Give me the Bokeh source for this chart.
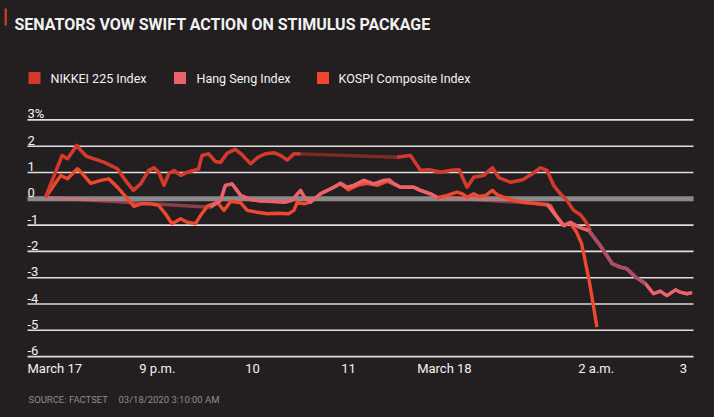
import math
from bokeh.plotting import figure
from bokeh.models import Range1d
from bokeh.core.properties import value
from bokeh.embed import file_html
from bokeh.resources import INLINE

# ---------------- data ----------------
TITLE = "SENATORS VOW SWIFT ACTION ON STIMULUS PACKAGE"
SERIES_NAMES = ["NIKKEI 225 Index", "Hang Seng Index", "KOSPI Composite Index"]
SOURCE = "SOURCE: FACTSET"
STAMP = "03/18/2020 3:10:00 AM"

# time axis (0 = start of the chart, 100 = end)
X_START, X_END = 0, 100
X_TICKS = [0, 19.5, 33.8, 48.2, 62.6, 85.4, 98.5]
X_TICK_LABELS = ["March 17", "9 p.m.", "10", "11", "March 18", "2 a.m.", "3"]

Y_TICKS = [3, 2, 1, 0, -1, -2, -3, -4, -5, -6]
Y_TICK_LABELS = ["3%", "2", "1", "0", "-1", "-2", "-3", "-4", "-5", "-6"]

NIKKEI_X = [2.7, 5.2, 6.0, 7.4, 8.0, 8.9, 10.0, 11.5, 13.5, 14.7, 15.9, 17.0, 18.2, 19.0,
            19.7, 20.5, 21.2, 22.0, 23.0, 24.0, 25.0, 25.7, 26.2, 27.2, 28.2, 29.0, 30.0,
            31.2, 32.2, 33.5, 34.6, 35.7, 37.0, 38.0, 39.0, 40.0, 41.0,
            55.5, 57.5, 59.0, 60.3, 62.0, 63.5, 64.8, 66.0, 67.0, 68.5, 69.8, 70.8, 72.5,
            74.3, 75.8, 77.0, 78.0, 79.0, 80.0, 81.0, 82.0, 83.0, 83.8, 84.5]
NIKKEI_Y = [0.05, 1.65, 1.52, 2.03, 1.84, 1.61, 1.52, 1.39, 1.14, 0.70, 0.32, 0.57, 1.08, 1.18,
            1.01, 0.51, 0.95, 1.08, 0.89, 1.01, 1.08, 1.14, 1.65, 1.71, 1.42, 1.39, 1.74,
            1.88, 1.68, 1.33, 1.58, 1.71, 1.75, 1.65, 1.47, 1.71, 1.71,
            1.58, 1.65, 1.08, 1.11, 1.01, 1.08, 1.11, 0.44, 0.82, 0.89, 1.18, 0.80, 0.63,
            0.72, 0.95, 1.18, 1.08, 0.51, 0.19, -0.06, -0.44, -0.60, -0.86, -1.20]
NIKKEI_BREAKS = [41.0]          # lunch break starts after this point

HANGSENG_X = [2.7, 27.5, 29.0, 29.7, 30.7, 32.0, 33.5, 35.0, 37.0, 38.7, 39.7, 41.0, 41.7,
              42.5, 44.0, 46.0, 47.0, 48.0, 49.0, 50.5, 52.0, 53.5, 54.3, 55.0, 56.0, 58.0,
              59.0, 60.5, 61.5,
              78.0, 79.3, 80.5, 81.5, 82.8, 84.3, 86.0, 87.8, 89.0, 90.0, 91.3, 92.8, 94.0,
              95.0, 96.0, 97.3, 98.0, 99.0, 99.8]
HANGSENG_Y = [0.05, -0.32, -0.06, 0.51, 0.57, 0.13, -0.03, -0.09, -0.10, -0.13, -0.06, 0.32, 0.02,
              -0.12, 0.19, 0.44, 0.59, 0.44, 0.51, 0.70, 0.57, 0.70, 0.72, 0.57, 0.44, 0.44,
              0.32, 0.19, 0.06,
              -0.20, -0.63, -1.02, -0.89, -1.08, -1.21, -1.78, -2.47, -2.60, -2.66, -2.98, -3.23, -3.61,
              -3.51, -3.68, -3.46, -3.55, -3.61, -3.57]
HANGSENG_BREAKS = [2.7, 61.5]   # open gap and lunch break
HANGSENG_DIM = [(84.3, 92.8)]

KOSPI_X = [2.7, 5.0, 6.0, 7.5, 8.2, 9.5, 11.0, 12.2, 13.5, 14.7, 16.0, 17.0, 18.5, 19.7,
           20.7, 21.7, 23.0, 24.0, 25.2, 26.0, 27.0, 28.5, 29.5, 30.5, 32.0, 33.0, 34.5,
           36.0, 37.5, 39.2, 40.0, 40.5, 41.5, 42.5, 44.0, 45.5, 47.0, 48.2, 49.5, 51.0,
           52.5, 54.0, 55.5, 56.0, 58.0, 59.0, 60.5, 61.5, 63.0, 64.5, 65.3, 66.0, 67.0,
           67.8, 68.8, 69.8, 70.5, 71.5, 73.0, 74.5, 76.5, 78.5, 79.4, 80.5, 81.5, 82.4,
           83.2, 84.4, 85.5]
KOSPI_Y = [0.05, 0.89, 0.76, 1.14, 0.97, 0.59, 0.70, 0.76, 0.44, 0.09, -0.29, -0.19, -0.19, -0.25,
           -0.57, -0.95, -0.76, -0.89, -0.95, -0.63, -0.28, -0.13, -0.44, -0.10, -0.15, -0.44, -0.51,
           -0.57, -0.55, -0.57, -0.44, -0.13, -0.19, -0.13, 0.19, 0.38, 0.57, 0.34, 0.51, 0.59,
           0.51, 0.67, 0.51, 0.44, 0.44, 0.32, 0.19, 0.03, 0.13, 0.25, 0.19, 0.06, 0.19,
           0.09, 0.13, 0.32, 0.16, 0.06, -0.06, -0.13, -0.19, -0.25, -0.65, -1.02, -0.92, -1.25,
           -1.70, -3.20, -4.88]

# ---------------- style ----------------
BG = "#231f20"
C_NIKKEI = "#d33a2c"
C_HANG = "#e8636b"
C_KOSPI = "#f0482f"
C_DIM = "#9c4a64"
TXT = "#f2f2f2"
FONT = "Roboto"

W, H = 714, 417
PX_X, X0_PX = 6.66, 27.0     # pixels per x unit, pixel of x = 0
PX_Y, Y0_PX = 26.3, 198.3    # pixels per y unit, pixel of y = 0


def fx(px):
    return (px - X0_PX) / PX_X


def fy(py):
    return (Y0_PX - py) / PX_Y


p = figure(width=W, height=H, title=None,
           x_range=Range1d(fx(0), fx(W)), y_range=Range1d(fy(H), fy(0)),
           output_backend="svg", toolbar_location=None,
           x_axis_location=None, y_axis_location=None, min_border=0,
           background_fill_color=BG, border_fill_color=BG, outline_line_color=None)
p.grid.visible = False

# grid lines
grid_vals = [v for v in Y_TICKS if v != 0]
p.segment(x0=[X_START] * len(grid_vals), x1=[X_END] * len(grid_vals), y0=grid_vals, y1=grid_vals,
          line_color="#dedede", line_width=1.6)
p.segment(x0=[X_START], x1=[X_END], y0=[0], y1=[0], line_color="#8a8a8a", line_width=5)


def broken(xs, ys, breaks):
    ox, oy = [], []
    for x, y in zip(xs, ys):
        ox.append(x)
        oy.append(y)
        if x in breaks:
            ox.append(math.nan)
            oy.append(math.nan)
    return ox, oy


LW = 3.4
# faded connections across closed periods
p.line(HANGSENG_X, HANGSENG_Y, line_color=C_HANG, line_alpha=0.5, line_width=LW)
p.line(NIKKEI_X, NIKKEI_Y, line_color=C_NIKKEI, line_alpha=0.5, line_width=LW)

# solid series
p.line(KOSPI_X, KOSPI_Y, line_color=C_KOSPI, line_width=LW, line_join="round")
nx, ny = broken(NIKKEI_X, NIKKEI_Y, NIKKEI_BREAKS)
p.line(nx, ny, line_color=C_NIKKEI, line_width=LW, line_join="round")
hx, hy = broken(HANGSENG_X, HANGSENG_Y, HANGSENG_BREAKS)
p.line(hx, hy, line_color=C_HANG, line_width=LW, line_join="round")
for a, b in HANGSENG_DIM:
    sx = [x for x in HANGSENG_X if a <= x <= b]
    sy = [y for x, y in zip(HANGSENG_X, HANGSENG_Y) if a <= x <= b]
    p.line(sx, sy, line_color=C_DIM, line_alpha=0.85, line_width=LW, line_join="round")

# y tick labels (above their grid lines)
p.text(x=[X_START] * len(Y_TICKS), y=Y_TICKS, text=Y_TICK_LABELS, y_offset=-6,
       text_font=value(FONT), text_font_size="13px", text_color=TXT,
       text_align="left", text_baseline="alphabetic")

# x tick labels
p.text(x=X_TICKS, y=[fy(368)] * len(X_TICKS), text=X_TICK_LABELS,
       text_align=["left"] + ["center"] * (len(X_TICKS) - 1),
       text_font=value(FONT), text_font_size="13px", text_color=TXT,
       text_baseline="middle")

# title and red marker
p.quad(left=[fx(4)], right=[fx(6.5)], top=[fy(8)], bottom=[fy(25)], fill_color="#c0392b", line_color=None)
p.text(x=[fx(14)], y=[fy(23.5)], text=[TITLE], text_font=value(FONT), text_font_style="bold",
       text_font_size="16px", text_color=TXT, text_align="left", text_baseline="alphabetic")

# legend
leg_sq = [34, 179.5, 322.5]
leg_tx = [50, 196, 338]
p.scatter(x=[fx(v) for v in leg_sq], y=[fy(77.5)] * 3, marker="square", size=12,
          fill_color=[C_NIKKEI, C_HANG, C_KOSPI], line_color=None)
p.text(x=[fx(v) for v in leg_tx], y=[fy(77.5)] * 3, text=SERIES_NAMES,
       text_font=value(FONT), text_font_size="12.5px", text_color=TXT,
       text_align="left", text_baseline="middle")

# source line
p.text(x=[fx(28), fx(118)], y=[fy(399)] * 2, text=[SOURCE, STAMP],
       text_font=value(FONT), text_font_size="9.5px", text_color="#8c8c8c",
       text_align="left", text_baseline="middle")

html = file_html(p, INLINE, title="Senators vow swift action on stimulus package")
html = html.replace("</head>", "<style>html,body{background:#231f20;}</style></head>", 1)
open("out.html", "w").write(html)
